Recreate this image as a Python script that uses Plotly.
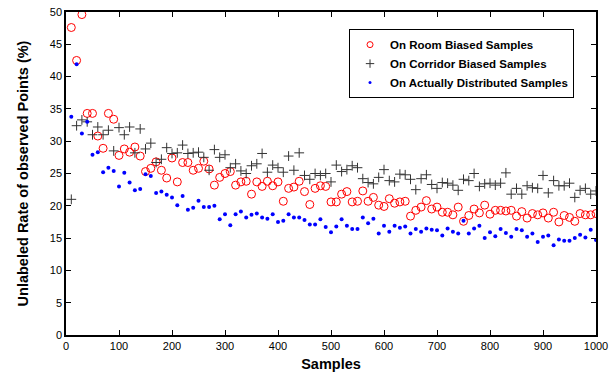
import plotly.graph_objects as go

samples = [10, 20, 30, 40, 50, 60, 70, 80, 90, 100,
           110, 120, 130, 140, 150, 160, 170, 180, 190, 200,
           210, 220, 230, 240, 250, 260, 270, 280, 290, 300,
           310, 320, 330, 340, 350, 360, 370, 380, 390, 400,
           410, 420, 430, 440, 450, 460, 470, 480, 490, 500,
           510, 520, 530, 540, 550, 560, 570, 580, 590, 600,
           610, 620, 630, 640, 650, 660, 670, 680, 690, 700,
           710, 720, 730, 740, 750, 760, 770, 780, 790, 800,
           810, 820, 830, 840, 850, 860, 870, 880, 890, 900,
           910, 920, 930, 940, 950, 960, 970, 980, 990, 1000]

room_biased = [47.6, 42.5, 49.6, 34.3, 34.3, 30.8, 28.9, 34.3, 33.4, 27.8,
               28.8, 28.3, 29.1, 27.7, 25.3, 25.8, 26.8, 25.5, 24.3, 27.4,
               23.7, 26.7, 26.7, 25.5, 25.8, 26.9, 25.7, 23.2, 24.4, 25.0,
               25.3, 23.2, 23.7, 23.8, 21.8, 23.7, 23.0, 23.8, 23.1, 23.7,
               20.7, 22.7, 22.9, 23.8, 22.2, 20.2, 22.7, 23.1, 23.0, 20.6,
               20.6, 21.8, 22.2, 20.6, 20.7, 22.3, 20.7, 21.3, 20.1, 19.9,
               21.1, 20.4, 20.6, 20.7, 18.4, 19.3, 19.8, 20.8, 19.5, 19.8,
               19.0, 19.0, 18.6, 19.8, 17.6, 18.5, 19.5, 18.9, 20.1, 18.7,
               19.3, 19.3, 19.2, 19.3, 18.4, 19.1, 18.1, 18.8, 18.6, 18.9,
               18.1, 19.0, 17.5, 18.5, 18.2, 17.6, 18.8, 18.6, 18.6, 18.8]

corridor_biased = [21.0, 32.4, 33.3, 33.0, 31.0, 32.2, 31.0, 31.7, 28.5, 32.1,
                   31.0, 32.2, 28.2, 31.9, 28.8, 29.7, 26.7, 27.2, 29.0, 28.1,
                   28.2, 29.4, 28.1, 28.2, 28.3, 27.5, 25.5, 28.7, 27.5, 27.9,
                   25.9, 26.5, 25.4, 25.0, 26.2, 26.5, 28.1, 25.2, 26.3, 25.9,
                   25.2, 27.7, 25.5, 28.2, 24.7, 24.1, 25.0, 24.7, 25.0, 23.7,
                   26.3, 25.3, 25.6, 26.2, 25.9, 24.2, 23.6, 23.4, 24.4, 25.6,
                   23.9, 23.7, 24.9, 24.8, 24.1, 22.5, 24.2, 24.8, 23.3, 22.7,
                   23.6, 23.5, 23.2, 22.4, 24.1, 23.9, 25.0, 23.0, 23.4, 23.5,
                   23.2, 23.5, 25.1, 21.8, 22.7, 21.8, 23.1, 22.8, 22.7, 24.7,
                   22.0, 23.9, 23.1, 23.1, 23.5, 21.3, 22.4, 22.7, 21.8, 22.3]

actual_distributed = [33.8, 41.9, 31.2, 33.0, 27.9, 28.3, 25.2, 25.9, 25.4, 23.0,
                      25.1, 23.6, 22.4, 22.6, 24.9, 24.6, 22.0, 22.2, 21.7, 21.3,
                      20.1, 21.5, 19.4, 19.7, 20.8, 19.8, 19.8, 20.0, 17.9, 18.7,
                      17.0, 18.7, 19.1, 18.2, 18.6, 18.8, 18.2, 18.0, 18.7, 17.5,
                      17.7, 18.7, 18.2, 18.2, 17.8, 17.1, 17.1, 17.9, 16.7, 15.9,
                      16.8, 17.9, 16.9, 16.4, 16.4, 18.2, 17.3, 18.0, 15.7, 16.9,
                      16.0, 16.9, 16.6, 16.8, 15.7, 16.4, 16.0, 16.5, 16.3, 16.2,
                      15.4, 16.5, 16.0, 15.7, 17.7, 15.7, 16.5, 16.9, 15.0, 15.9,
                      15.3, 16.4, 15.8, 15.2, 16.4, 16.2, 15.2, 15.7, 14.4, 15.2,
                      15.4, 13.9, 14.8, 14.6, 14.6, 15.0, 15.5, 15.1, 16.3, 14.7]

series_names = ["On Room Biased Samples", "On Corridor Biased Samples",
                "On Actually Distributed Samples"]

x_ticks = [0, 100, 200, 300, 400, 500, 600, 700, 800, 900, 1000]
y_ticks = [0, 5, 10, 15, 20, 25, 30, 35, 40, 45, 50]

FONT = "Arial, 'Liberation Sans', Helvetica, sans-serif"

styles = [
    dict(symbol="circle-open", size=8, color="#ff0000", line=dict(width=1, color="#ff0000")),
    dict(symbol="cross-thin", size=7, color="#333333", line=dict(width=1, color="#333333")),
    dict(symbol="circle", size=4, color="#0000ff", line=dict(width=0)),
]
legend_styles = [
    dict(symbol="circle-open", size=6, color="#ff0000", line=dict(width=1, color="#ff0000")),
    dict(symbol="cross-thin", size=6, color="#333333", line=dict(width=1, color="#333333")),
    dict(symbol="circle", size=3, color="#0000ff", line=dict(width=0)),
]

fig = go.Figure()
for name, vals, st in zip(series_names, [room_biased, corridor_biased, actual_distributed], styles):
    fig.add_trace(go.Scatter(x=samples, y=vals, mode="markers", name=name,
                             marker=st, showlegend=False, legendgroup=name))
for name, st in zip(series_names, legend_styles):
    fig.add_trace(go.Scatter(x=[None], y=[None], mode="markers", name=name,
                             marker=st, showlegend=True, legendgroup=name))

axis_common = dict(
    showline=True, linecolor="black", linewidth=1.5, mirror="ticks",
    ticks="inside", ticklen=5, tickwidth=1, tickcolor="black",
    showgrid=False, zeroline=False, ticklabeloverflow="allow",
    automargin=False,
    tickfont=dict(family=FONT, size=11, color="black"),
)

fig.update_layout(
    width=613, height=372, autosize=False,
    margin=dict(l=66, r=17, t=12, b=37),
    paper_bgcolor="white", plot_bgcolor="white",
    font=dict(family=FONT, color="black"),
    xaxis=dict(range=[0, 1000], tickvals=x_ticks,
               title=dict(text="<b>Samples</b>", font=dict(family=FONT, size=14.5), standoff=8),
               **axis_common),
    yaxis=dict(range=[0, 50], tickvals=y_ticks,
               title=dict(text="<b>Unlabeled Rate of observed Points (%)</b>", font=dict(family=FONT, size=14.5), standoff=18),
               **axis_common),
    legend=dict(x=0.534, y=0.947, xanchor="left", yanchor="top",
                bgcolor="white", bordercolor="black", borderwidth=1,
                font=dict(family=FONT, size=11.5, color="black", weight="bold"),
                tracegroupgap=0, itemsizing="trace"),
    showlegend=True,
)

fig.write_html(
    "out.html",
    config={"displayModeBar": False},
    post_script="document.body.style.margin='0';document.body.style.padding='0';"
                "document.body.style.overflow='hidden';",
)
